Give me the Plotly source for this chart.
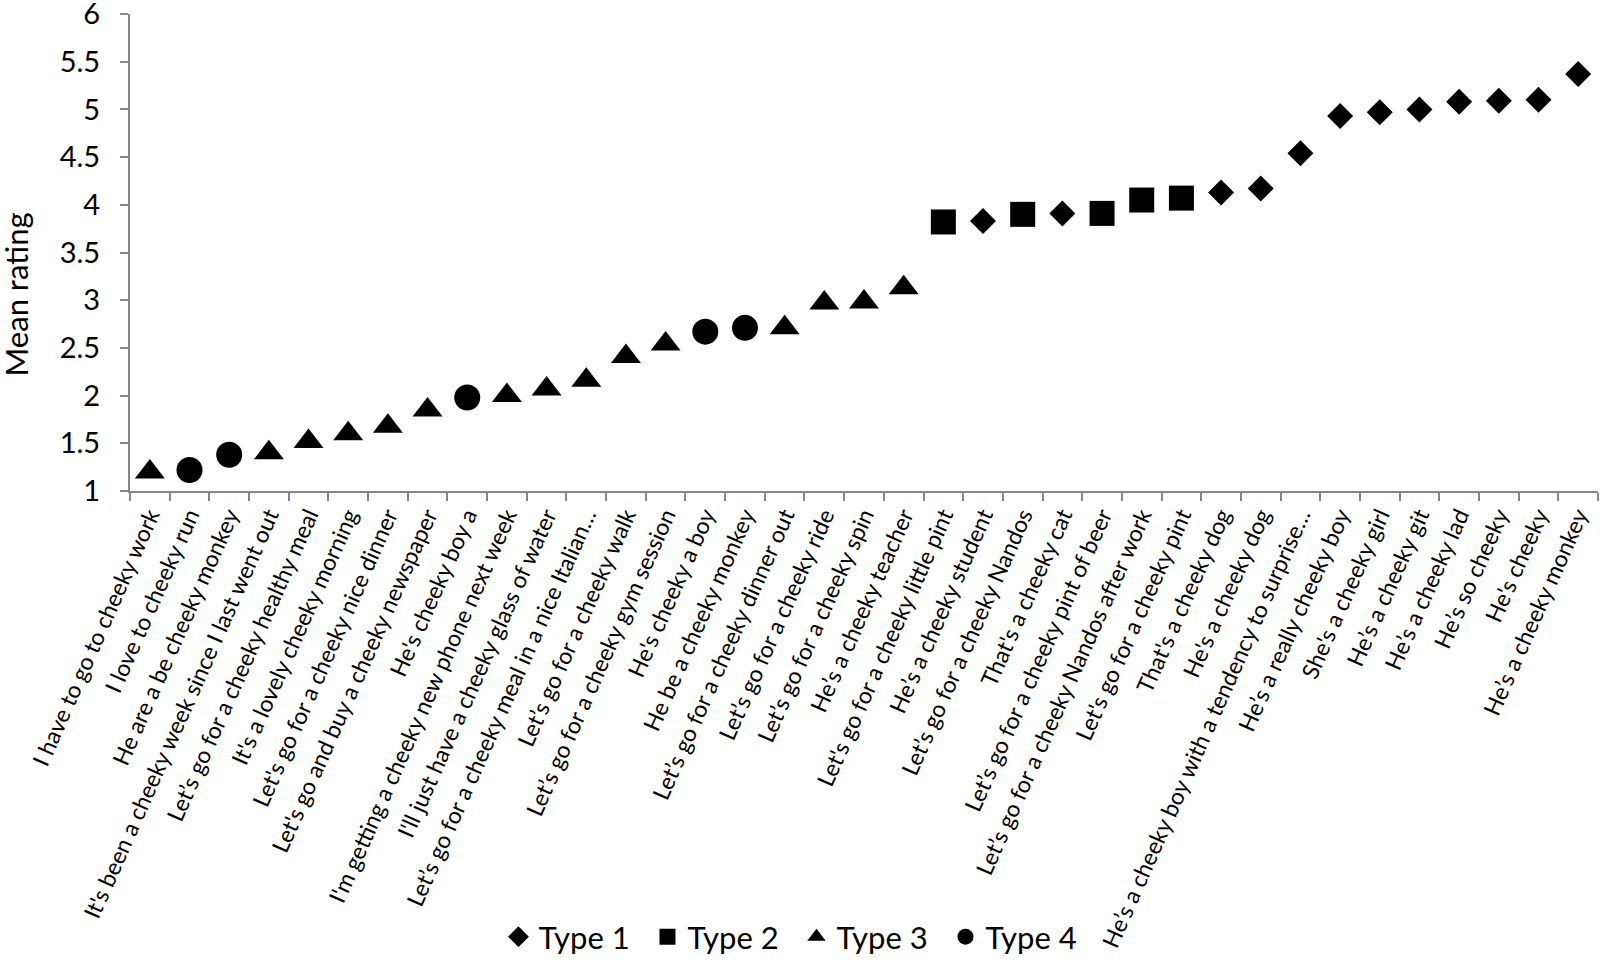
import plotly.graph_objects as go

# sentences, in the order they appear on the x axis
labels = [
    "I have to go to cheeky work",
    "I love to cheeky run",
    "He are a be cheeky monkey",
    "It's been a cheeky week since I last went out",
    "Let’s go for a cheeky healthy meal",
    "It's a lovely cheeky morning",
    "Let's go for a cheeky nice dinner",
    "Let's go and buy a cheeky newspaper",
    "He's cheeky boy a",
    "I'm getting a cheeky new phone next week",
    "I'll just have a cheeky glass of water",
    "Let’s go for a cheeky meal in a nice Italian…",
    "Let’s go for a cheeky walk",
    "Let’s go for a cheeky gym session",
    "He's cheeky a boy",
    "He be a cheeky monkey",
    "Let’s go for a cheeky dinner out",
    "Let’s go for a cheeky ride",
    "Let’s go for a cheeky spin",
    "He’s a cheeky teacher",
    "Let's go for a cheeky little pint",
    "He’s a cheeky student",
    "Let’s go for a cheeky Nandos",
    "That's a cheeky cat",
    "Let’s go for a cheeky pint of beer",
    "Let’s go for a cheeky Nandos after work",
    "Let's go for a cheeky pint",
    "That's a cheeky dog",
    "He's a cheeky dog",
    "He’s a cheeky boy with a tendency to surprise…",
    "He’s a really cheeky boy",
    "She's a cheeky girl",
    "He’s a cheeky git",
    "He’s a cheeky lad",
    "He’s so cheeky",
    "He's cheeky",
    "He’s a cheeky monkey",
]

mean_rating = [
    1.20, 1.22, 1.38, 1.40, 1.52, 1.60, 1.68, 1.85, 1.98, 2.00,
    2.07, 2.16, 2.41, 2.54, 2.67, 2.71, 2.71, 2.97, 2.98, 3.13,
    3.82, 3.83, 3.90, 3.91, 3.91, 4.05, 4.07, 4.13, 4.17, 4.54,
    4.93, 4.97, 5.00, 5.08, 5.09, 5.10, 5.37,
]

sentence_type = [
    3, 4, 4, 3, 3, 3, 3, 3, 4, 3,
    3, 3, 3, 3, 4, 4, 3, 3, 3, 3,
    2, 1, 2, 1, 2, 2, 2, 1, 1, 1,
    1, 1, 1, 1, 1, 1, 1,
]

type_names = ["Type 1", "Type 2", "Type 3", "Type 4"]
type_symbols = ["diamond", "square", "triangle-up", "circle"]
type_sizes = [20, 25, 26, 26]

y_ticks = [1, 1.5, 2, 2.5, 3, 3.5, 4, 4.5, 5, 5.5, 6]
y_tick_text = ["1", "1.5", "2", "2.5", "3", "3.5", "4", "4.5", "5", "5.5", "6"]

FONT = "Lato"
AXIS_GREY = "#868686"


def make_traces():
    data = []
    for i in range(len(type_names)):
        xs = [labels[j] for j in range(len(labels)) if sentence_type[j] == i + 1]
        ys = [mean_rating[j] for j in range(len(labels)) if sentence_type[j] == i + 1]
        trace = go.Scatter(
            x=xs,
            y=ys,
            mode="markers",
            name=type_names[i],
            marker=dict(symbol=type_symbols[i], size=type_sizes[i], color="black"),
            cliponaxis=False,
        )
        data.append(trace)
    return data


layout = go.Layout(
    width=1613,
    height=976,
    paper_bgcolor="white",
    plot_bgcolor="white",
    font=dict(family=FONT, color="black"),
    margin=dict(l=130, r=15, t=14, b=479),
    showlegend=True,
    legend=dict(
        orientation="h",
        x=0.454, xanchor="center",
        y=-0.935, yanchor="middle",
        font=dict(size=31),
        itemsizing="trace",
        entrywidth=104,
        traceorder="normal",
    ),
    xaxis=dict(
        type="category",
        categoryorder="array",
        categoryarray=labels,
        range=[-0.5, len(labels) - 0.5],
        tickangle=-66,
        tickfont=dict(size=23),
        tickson="boundaries",
        ticks="outside",
        ticklen=8,
        tickcolor=AXIS_GREY,
        tickwidth=2,
        showline=True,
        linecolor=AXIS_GREY,
        linewidth=2,
        showgrid=False,
        zeroline=False,
        automargin=False,
    ),
    yaxis=dict(
        range=[1, 6],
        tickmode="array",
        tickvals=y_ticks,
        ticktext=y_tick_text,
        tickfont=dict(size=29),
        ticklabeloverflow="allow",
        ticks="outside",
        ticklen=8,
        ticklabelstandoff=14,
        tickcolor=AXIS_GREY,
        tickwidth=2,
        showline=True,
        linecolor=AXIS_GREY,
        linewidth=2,
        showgrid=False,
        zeroline=False,
        automargin=False,
    ),
    annotations=[
        dict(
            text="Mean rating",
            textangle=-90,
            font=dict(size=31),
            xref="paper", yref="paper",
            x=-0.077, y=0.412,
            xanchor="center", yanchor="middle",
            showarrow=False,
        )
    ],
)

fig = go.Figure(data=make_traces(), layout=layout)
# drop the browser's default 8px body margin so the figure fills the window
fig.write_html(
    "out.html",
    config={"displayModeBar": False},
    post_script="document.body.style.margin = '0';",
)
